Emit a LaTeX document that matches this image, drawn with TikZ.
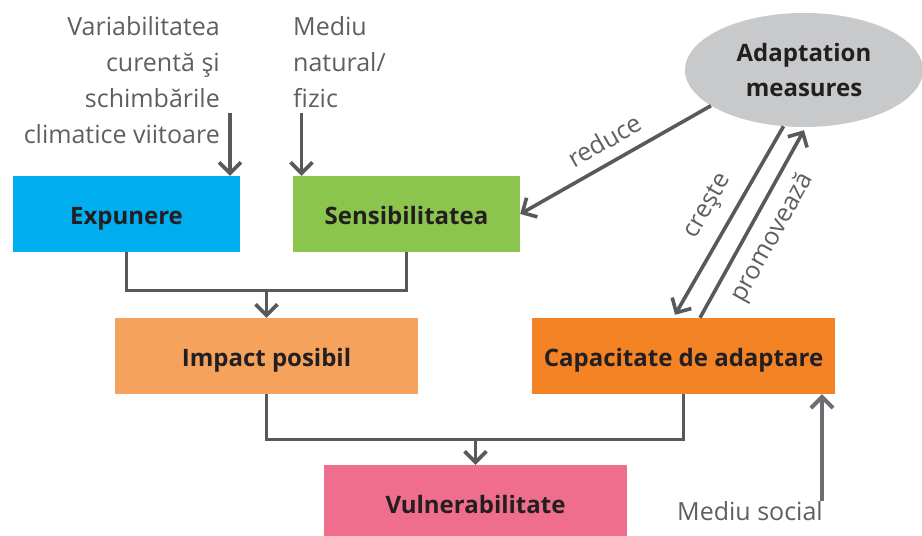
\documentclass[tikz,border=0pt]{standalone}
\usepackage{fontspec}
\setmainfont{Open Sans}
\usetikzlibrary{arrows.meta,shapes.geometric,calc}
\definecolor{cblue}{HTML}{00AEEF}
\definecolor{cgreen}{HTML}{8BC54D}
\definecolor{cimpact}{HTML}{F5A35C}
\definecolor{ccap}{HTML}{F38324}
\definecolor{cvul}{HTML}{F06E8D}
\definecolor{cell}{HTML}{C8C9CB}
\definecolor{cline}{HTML}{58595B}
\definecolor{csoc}{HTML}{6D6E71}
\definecolor{ctext}{HTML}{231F20}
\definecolor{clabel}{HTML}{5E5F61}
\begin{document}
\begin{tikzpicture}[x=1pt,y=-1pt,
  box/.style={rectangle, inner sep=0pt, minimum height=76pt,
    font=\fontsize{24}{30}\selectfont\bfseries, text=ctext,
    text height=21pt, text depth=0pt},
  conn/.style={draw=cline, line width=3pt},
  arr/.style={draw=cline, line width=3.6pt, -{Straight Barb[length=11pt,width=22pt]}},
  lbl/.style={inner sep=0pt, font=\fontsize{25}{36}\selectfont, text=clabel},
]
\useasboundingbox (0,0) rectangle (922,536);

% boxes
\node[box, fill=cblue,   minimum width=227pt] (exp)  at (126.5,214) {Expunere};
\node[box, fill=cgreen,  minimum width=227pt] (sens) at (406.5,214) {Sensibilitatea};
\node[box, fill=cimpact, minimum width=303pt] (imp)  at (266.5,356) {Impact posibil};
\node[box, fill=ccap,    minimum width=303pt] (cap)  at (683.5,356) {Capacitate de adaptare};
\node[box, fill=cvul,    minimum width=303pt] (vul)  at (475.5,503) {Vulnerabilitate};

\node[ellipse, fill=cell, inner sep=0pt, minimum width=238pt, minimum height=114pt,
  align=center, font=\fontsize{24}{35}\selectfont\bfseries, text=ctext] (am) at (804,70)
  {Adaptation\\measures};

% input texts
\node[lbl, align=right, anchor=north east] (var) at (220,16)
  {Variabilitatea\\curentă şi\\schimbările\\climatice viitoare};
\node[lbl, align=left, anchor=north west] (nat) at (293,16)
  {Mediu\\natural/\\fizic};
\node[lbl, anchor=base east] (soc) at (823,520) {Mediu social};

% input arrows
\coordinate (in1) at (230,113);
\coordinate (in2) at (301.5,113);
\draw[arr] (in1) -- (in1 |- exp.north);
\draw[arr] (in2) -- (in2 |- sens.north);
\draw[arr, draw=csoc, line width=4pt] ([xshift=-1pt]soc.north east) -- ([xshift=-1pt]soc.north east |- cap.south);

% combining connectors
\coordinate (j1) at (266.5,290.5);
\draw[conn] (exp.south) |- (j1) -| (sens.south);
\draw[arr] (j1) -- (imp.north);
\coordinate (j2) at (475.5,439);
\draw[conn] (imp.south) |- (j2) -| (cap.south);
\draw[arr] (j2) -- (vul.north);

% adaptation measures links
\draw[arr] (am.201.7) -- node[lbl, sloped, above=11pt, pos=0.5] {reduce} (sens.east);
\draw[arr] (am.250) -- node[lbl, sloped, above=12pt, pos=0.49] {creşte} ([xshift=-8.5pt,yshift=3pt]cap.north);
\draw[arr] ([xshift=16.5pt]cap.north) -- node[lbl, sloped, below=11pt, pos=0.49] {promovează} ([yshift=-3pt]am.south);
\end{tikzpicture}
\end{document}
